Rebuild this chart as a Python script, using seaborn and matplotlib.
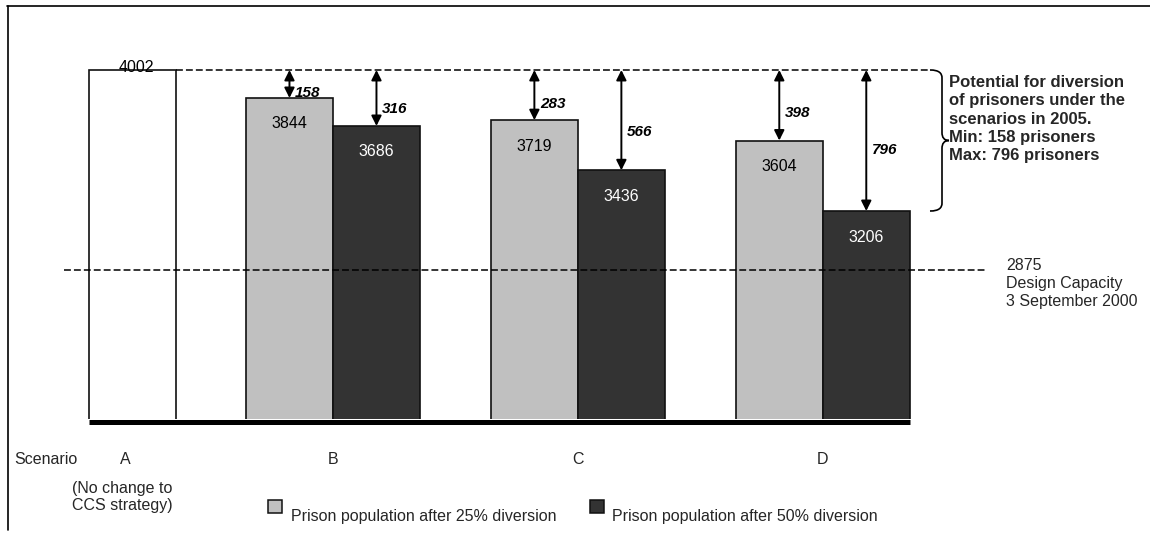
import numpy as np
import pandas as pd
import matplotlib
matplotlib.use("Agg")
import matplotlib.pyplot as plt
import seaborn as sns
from matplotlib.path import Path
from matplotlib.patches import PathPatch, Rectangle
from matplotlib.lines import Line2D
from matplotlib import transforms

# ---------------- data ----------------
scenarios = ["A", "B", "C", "D"]
no_change_value = 4002                 # scenario A
pop_25 = [3844, 3719, 3604]            # scenarios B, C, D after 25% diversion
pop_50 = [3686, 3436, 3206]            # scenarios B, C, D after 50% diversion
design_capacity = 2875
series_labels = ["Prison population after 25% diversion",
                 "Prison population after 50% diversion"]
scenario_a_note = "(No change to\nCCS strategy)"
capacity_note = "Design Capacity\n3 September 2000"
scenario_axis_label = "Scenario"
annotation_lines = ["Potential for diversion", "of prisoners under the",
                    "scenarios in 2005."]

# ---------------- layout ----------------
W, H, DPI = 1150, 534, 100
X0_PX, UNIT_PX = 132, 87          # pixel column of bar A centre, pixels per bar width
TOP_PX, PX_PER_VAL = 70, 0.17714  # pixel row of the highest bar top, pixels per prisoner
AX_BOTTOM_PX = 419                # pixel row of the bar baseline
GROUP_START, GROUP_PITCH = 2.31, 2.815
label_frac = [0.82, 0.70, 0.68, 0.62, 0.61, 0.57]  # vertical placement of difference labels

C_BASE, C_25, C_50 = "#ffffff", "#c0c0c0", "#333333"

sns.set_theme(style="white")
plt.rcParams["font.family"] = ["Liberation Sans", "DejaVu Sans"]

fig = plt.figure(figsize=(W / DPI, H / DPI), dpi=DPI)
fig.patch.set_facecolor("white")
ax = fig.add_axes([0, 1 - AX_BOTTOM_PX / H, 1, AX_BOTTOM_PX / H])
ax.set_facecolor("none")

def px2u(px):
    return (px - X0_PX) / UNIT_PX

ymax_val = max([no_change_value] + pop_25 + pop_50)

def py2v(py):
    return ymax_val - (py - TOP_PX) / PX_PER_VAL

pix = transforms.Affine2D().scale(1 / W, -1 / H).translate(0, 1) + fig.transFigure

# ---------------- bars ----------------
group_centres = [GROUP_START + i * GROUP_PITCH for i in range(len(scenarios) - 1)]
pos_a = 0.0
pos_25 = [g - 0.5 for g in group_centres]
pos_50 = [g + 0.5 for g in group_centres]

df = pd.DataFrame({
    "pos": [pos_a] + pos_25 + pos_50,
    "value": [no_change_value] + pop_25 + pop_50,
    "series": ["base"] + ["25"] * len(pop_25) + ["50"] * len(pop_50),
})

sns.barplot(data=df, x="pos", y="value", hue="series", native_scale=True,
            dodge=False, width=1.0, errorbar=None, saturation=1,
            palette={"base": C_BASE, "25": C_25, "50": C_50},
            edgecolor="#111111", linewidth=1.2, legend=False, ax=ax)

ax.set_xlim(px2u(0), px2u(W))
ax.set_ylim(py2v(AX_BOTTOM_PX), py2v(0))
ax.set_axis_off()

FS = 11.5
off_in_bar = -26 * 72 / DPI

# label above A
ax.annotate(str(no_change_value), xy=(pos_a, no_change_value), xytext=(3, -1.5),
            textcoords="offset points", ha="center", va="baseline", fontsize=FS,
            color="black", zorder=5)

# labels inside bars
for p, v in zip(pos_25, pop_25):
    ax.annotate(str(v), xy=(p, v), xytext=(0, off_in_bar), textcoords="offset points",
                ha="center", va="center", fontsize=FS, color="black", zorder=5)
for p, v in zip(pos_50, pop_50):
    ax.annotate(str(v), xy=(p, v), xytext=(0, off_in_bar), textcoords="offset points",
                ha="center", va="center", fontsize=FS, color="white", zorder=5)

# reference line at the no-change level
ax.plot([pos_a + 0.5, px2u(930)], [no_change_value] * 2, color="black", lw=1.1,
        ls=(0, (4.5, 2)), zorder=3)

# design capacity line
ax.plot([px2u(64), px2u(985)], [design_capacity] * 2, color="black", lw=1.1,
        ls=(0, (4.5, 2)), zorder=3)

# double arrows + differences
diff_bars = []
for i in range(len(pop_25)):
    diff_bars.append((pos_25[i], pop_25[i]))
    diff_bars.append((pos_50[i], pop_50[i]))
for k, (p, v) in enumerate(diff_bars):
    d = no_change_value - v
    ax.annotate("", xy=(p, v), xytext=(p, no_change_value),
                arrowprops=dict(arrowstyle="<|-|>", color="black", lw=1.4,
                                mutation_scale=15, shrinkA=0, shrinkB=0),
                zorder=6)
    ax.annotate(str(d), xy=(p, no_change_value - d * label_frac[k]), xytext=(4, 0),
                textcoords="offset points", ha="left", va="center", fontsize=11,
                fontweight="bold", fontstyle="italic", color="black", zorder=6)

# thick baseline
base_v = py2v(AX_BOTTOM_PX + 2.5)
ax.plot([pos_a - 0.5, pos_50[-1] + 0.5], [base_v, base_v], color="black",
        lw=5 * 72 / DPI, solid_capstyle="butt", clip_on=False, zorder=7)

# brace
vmax, vmin = no_change_value, min(pop_50)
vm = (vmax + vmin) / 2
e = 8 / PX_PER_VAL
bt = transforms.blended_transform_factory(pix, ax.transData)
verts = [(930, vmax), (939, vmax), (942, vmax - e * 0.4), (942, vmax - e),
         (942, vm + e),
         (942, vm + e * 0.4), (944, vm), (949, vm),
         (944, vm), (942, vm - e * 0.4), (942, vm - e),
         (942, vmin + e),
         (942, vmin + e * 0.4), (939, vmin), (930, vmin)]
codes = [Path.MOVETO, Path.CURVE4, Path.CURVE4, Path.CURVE4,
         Path.LINETO,
         Path.CURVE4, Path.CURVE4, Path.CURVE4,
         Path.CURVE4, Path.CURVE4, Path.CURVE4,
         Path.LINETO,
         Path.CURVE4, Path.CURVE4, Path.CURVE4]
ax.add_patch(PathPatch(Path(verts, codes), transform=bt, fill=False, lw=1.2,
                       edgecolor="black", clip_on=False))

# right annotation
min_d = no_change_value - max(pop_25 + pop_50)
max_d = no_change_value - min(pop_25 + pop_50)
ann = "\n".join(annotation_lines + [f"Min: {min_d} prisoners", f"Max: {max_d} prisoners"])
fig.text(949, 75, ann, transform=pix, ha="left", va="top", fontsize=12,
         fontweight="bold", linespacing=1.28)

# capacity note
fig.text(1006, 258, f"{design_capacity}\n{capacity_note}", transform=pix, ha="left",
         va="top", fontsize=FS, linespacing=1.24)

# scenario labels
xt = transforms.blended_transform_factory(ax.transData, pix)
ax.text(px2u(14), 459, scenario_axis_label, transform=xt, ha="left",
        va="center", fontsize=FS)
ax.text(pos_a - 0.08, 459, scenarios[0], transform=xt, ha="center", va="center", fontsize=FS)
for s, g in zip(scenarios[1:], group_centres):
    ax.text(g, 459, s, transform=xt, ha="center", va="center", fontsize=FS)

fig.text(72, 481, scenario_a_note, transform=pix, ha="left", va="top", fontsize=FS,
         linespacing=1.13)

# legend
for (x0, col, lab, tx) in [(268, C_25, series_labels[0], 291),
                           (590, C_50, series_labels[1], 612)]:
    fig.patches.append(Rectangle((x0, 513), 14, -13, transform=pix, facecolor=col,
                                 edgecolor="#111111", lw=1.1))
    fig.text(tx, 516, lab, transform=pix, ha="left", va="center", fontsize=FS)

# outer frame (left and top edges)
fig.lines.append(Line2D([7.5, 7.5], [6, 530], transform=pix, color="black", lw=1.2))
fig.lines.append(Line2D([7, W], [6, 6], transform=pix, color="black", lw=1.2))

fig.savefig("out.png", dpi=DPI, facecolor="white")
